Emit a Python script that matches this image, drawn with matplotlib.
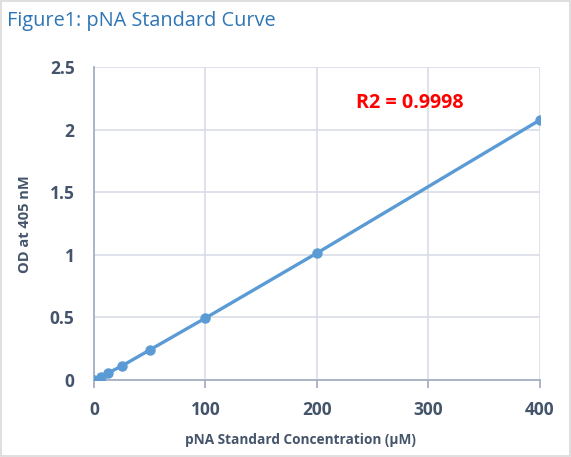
import matplotlib
matplotlib.use("Agg")
import matplotlib.pyplot as plt
from matplotlib.patches import Rectangle

conc = [0, 6.25, 12.5, 25, 50, 100, 200, 400]
od = [0.0, 0.024, 0.056, 0.112, 0.24, 0.495, 1.014, 2.077]
x_ticks = [0, 100, 200, 300, 400]
y_ticks = [0, 0.5, 1, 1.5, 2, 2.5]
y_tick_labels = ["0", "0.5", "1", "1.5", "2", "2.5"]

plt.rcParams['font.family'] = ['Open Sans', 'DejaVu Sans']
text_col = '#44546A'
grid_col = '#D9DDE6'

fig = plt.figure(figsize=(5.71, 4.57), dpi=100)
ax = fig.add_axes([0.1646, 0.1685, 0.7811, 0.6849])

ax.plot(conc, od, color='#5B9BD5', lw=2.4, marker='o', ms=6.5, zorder=3)
ax.set_xlim(0, 400)
ax.set_ylim(0, 2.5)
ax.set_xticks(x_ticks)
ax.set_yticks(y_ticks)
ax.set_yticklabels(y_tick_labels)
ax.grid(True, color=grid_col, lw=1.2)
ax.set_axisbelow(True)
for s in ['top', 'right']:
    ax.spines[s].set_visible(False)
ax.spines['left'].set_color('#A6B0C3')
ax.spines['bottom'].set_color('#A6B0C3')
ax.spines['left'].set_linewidth(1.3)
ax.spines['bottom'].set_linewidth(1.3)
ax.tick_params(axis='x', length=6, color='#A6B0C3', width=1.3, pad=9)
ax.tick_params(axis='y', length=0, pad=14)
for lab in ax.get_xticklabels() + ax.get_yticklabels():
    lab.set_fontsize(12.5)
    lab.set_fontweight('bold')
    lab.set_color(text_col)

fig.text(300 / 571, 1 - 440 / 457, 'pNA Standard Concentration (µM)', fontsize=9.8,
         fontweight='bold', color=text_col, ha='center', va='center')
fig.text(25 / 571, 1 - 224 / 457, 'OD at 405 nM', fontsize=10.5, fontweight='bold',
         color=text_col, ha='center', va='center', rotation=90)

ax.text(235, 2.215, 'R2 = 0.9998', color='#FF0000', fontsize=14.2, fontweight='bold', va='center')

fig.text(0.012, 0.955, 'Figure1: pNA Standard Curve', color='#2E75B6', fontsize=14.3, va='center')
fig.patches.append(Rectangle((0.002, 0.002), 0.996, 0.996, transform=fig.transFigure,
                             fill=False, edgecolor='#D9D9D9', lw=1.2))

fig.savefig('out.png', dpi=100)
